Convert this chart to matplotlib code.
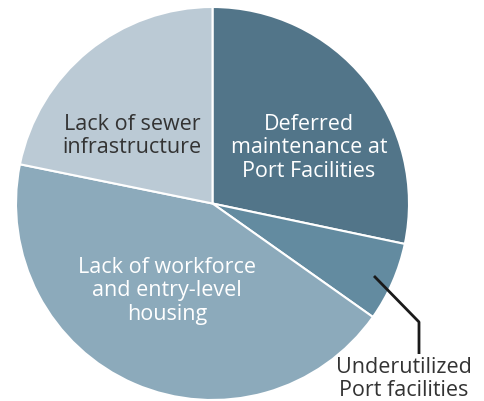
import matplotlib
matplotlib.use("Agg")
import matplotlib.pyplot as plt

categories = ["Deferred\nmaintenance at\nPort Facilities",
              "Underutilized\nPort facilities",
              "Lack of workforce\nand entry-level\nhousing",
              "Lack of sewer\ninfrastructure"]
values = [28.3, 6.5, 43.4, 21.8]
colors = ["#527589", "#638BA0", "#8CAABB", "#BBCAD5"]

plt.rcParams['font.family'] = ['Open Sans', 'DejaVu Sans']

fig = plt.figure(figsize=(4.85, 4.02), dpi=100)
ax = fig.add_axes([0, 0, 1, 1])

cx, cy, r = 212.5, 402 - 204.5, 196.5
ax.pie(values, colors=colors, startangle=90, counterclock=False,
       center=(cx, cy), radius=r, frame=True,
       wedgeprops=dict(edgecolor='white', linewidth=1.5))
ax.set_xlim(0, 485)
ax.set_ylim(0, 402)
ax.set_aspect('equal')
ax.axis('off')

fs = 15.5
ls = 1.15
ax.text(309, 402 - 148, categories[0], ha='center', va='center', fontsize=fs,
        color='white', linespacing=ls)
ax.text(167, 402 - 291, categories[2], ha='center', va='center', fontsize=fs,
        color='white', linespacing=ls)
ax.text(132, 402 - 136, categories[3], ha='center', va='center', fontsize=fs,
        color='#333333', linespacing=ls)
ax.text(404, 402 - 379, categories[1], ha='center', va='center', fontsize=fs,
        color='#333333', linespacing=ls)
ax.plot([374, 419, 419], [402 - 277, 402 - 323, 402 - 355], color='#1a1a1a',
        linewidth=2, solid_capstyle='butt')

fig.savefig("out.png", dpi=100)
